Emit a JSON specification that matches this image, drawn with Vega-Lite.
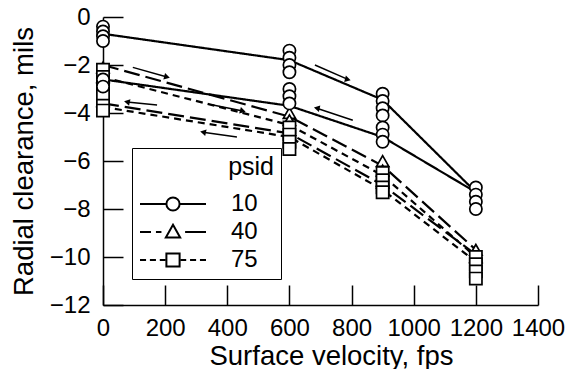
{
  "$schema": "https://vega.github.io/schema/vega-lite/v6.json",
  "width": 435,
  "height": 288,
  "autosize": {"type": "none"},
  "padding": {"left": 103, "top": 17, "right": 36, "bottom": 64},
  "background": "white",
  "config": {
    "view": {"stroke": null},
    "font": "Liberation Sans",
    "axis": {
      "grid": false,
      "domainColor": "black",
      "domainWidth": 1.5,
      "tickColor": "black",
      "tickWidth": 1.5,
      "tickSize": -20,
      "labelColor": "black",
      "labelFontSize": 24,
      "labelFlush": false,
      "labelOverlap": false,
      "titleColor": "black",
      "titleFontSize": 27.5,
      "titleFontWeight": "normal"
    }
  },
  "datasets": {
    "lines": [
      {"psid": "10", "run": "10 up", "v": 0, "c": -0.7},
      {"psid": "10", "run": "10 up", "v": 600, "c": -1.8},
      {"psid": "10", "run": "10 up", "v": 900, "c": -3.45},
      {"psid": "10", "run": "10 up", "v": 1200, "c": -7.3},
      {"psid": "10", "run": "10 down", "v": 1200, "c": -7.3},
      {"psid": "10", "run": "10 down", "v": 900, "c": -5.0},
      {"psid": "10", "run": "10 down", "v": 600, "c": -3.7},
      {"psid": "10", "run": "10 down", "v": 0, "c": -2.6},
      {"psid": "40", "run": "40 up", "v": 0, "c": -2.0},
      {"psid": "40", "run": "40 up", "v": 600, "c": -4.15},
      {"psid": "40", "run": "40 up", "v": 900, "c": -6.2},
      {"psid": "40", "run": "40 up", "v": 1200, "c": -9.7},
      {"psid": "40", "run": "40 down", "v": 1200, "c": -9.9},
      {"psid": "40", "run": "40 down", "v": 900, "c": -7.0},
      {"psid": "40", "run": "40 down", "v": 600, "c": -4.85},
      {"psid": "40", "run": "40 down", "v": 0, "c": -3.6},
      {"psid": "75", "run": "75 up", "v": 0, "c": -2.5},
      {"psid": "75", "run": "75 up", "v": 600, "c": -4.5},
      {"psid": "75", "run": "75 up", "v": 900, "c": -6.6},
      {"psid": "75", "run": "75 up", "v": 1200, "c": -10.0},
      {"psid": "75", "run": "75 down", "v": 1200, "c": -10.2},
      {"psid": "75", "run": "75 down", "v": 900, "c": -7.2},
      {"psid": "75", "run": "75 down", "v": 600, "c": -5.0},
      {"psid": "75", "run": "75 down", "v": 0, "c": -3.75}
    ],
    "points": [
      {"psid": "40", "v": 0, "c": -2.1}, {"psid": "40", "v": 0, "c": -2.5}, {"psid": "40", "v": 0, "c": -3.5},
      {"psid": "40", "v": 600, "c": -4.0}, {"psid": "40", "v": 600, "c": -4.3}, {"psid": "40", "v": 600, "c": -4.7},
      {"psid": "40", "v": 900, "c": -6.0}, {"psid": "40", "v": 900, "c": -6.4}, {"psid": "40", "v": 900, "c": -6.9},
      {"psid": "40", "v": 1200, "c": -9.7}, {"psid": "40", "v": 1200, "c": -10.0},
      {"psid": "75", "v": 0, "c": -2.2}, {"psid": "75", "v": 0, "c": -2.5}, {"psid": "75", "v": 0, "c": -2.9},
      {"psid": "75", "v": 0, "c": -3.3}, {"psid": "75", "v": 0, "c": -3.7}, {"psid": "75", "v": 0, "c": -3.9},
      {"psid": "75", "v": 600, "c": -4.6}, {"psid": "75", "v": 600, "c": -4.9}, {"psid": "75", "v": 600, "c": -5.2}, {"psid": "75", "v": 600, "c": -5.5},
      {"psid": "75", "v": 900, "c": -6.5}, {"psid": "75", "v": 900, "c": -6.8}, {"psid": "75", "v": 900, "c": -7.1}, {"psid": "75", "v": 900, "c": -7.3},
      {"psid": "75", "v": 1200, "c": -10.0}, {"psid": "75", "v": 1200, "c": -10.3}, {"psid": "75", "v": 1200, "c": -10.6}, {"psid": "75", "v": 1200, "c": -10.9},
      {"psid": "10", "v": 0, "c": -0.4}, {"psid": "10", "v": 0, "c": -0.6}, {"psid": "10", "v": 0, "c": -0.8}, {"psid": "10", "v": 0, "c": -1.0},
      {"psid": "10", "v": 0, "c": -2.6}, {"psid": "10", "v": 0, "c": -2.9},
      {"psid": "10", "v": 600, "c": -1.4}, {"psid": "10", "v": 600, "c": -1.7}, {"psid": "10", "v": 600, "c": -2.0}, {"psid": "10", "v": 600, "c": -2.3},
      {"psid": "10", "v": 600, "c": -3.0}, {"psid": "10", "v": 600, "c": -3.3}, {"psid": "10", "v": 600, "c": -3.6},
      {"psid": "10", "v": 900, "c": -3.2}, {"psid": "10", "v": 900, "c": -3.5}, {"psid": "10", "v": 900, "c": -3.8}, {"psid": "10", "v": 900, "c": -4.1},
      {"psid": "10", "v": 900, "c": -4.6}, {"psid": "10", "v": 900, "c": -4.9}, {"psid": "10", "v": 900, "c": -5.2},
      {"psid": "10", "v": 1200, "c": -7.1}, {"psid": "10", "v": 1200, "c": -7.4}, {"psid": "10", "v": 1200, "c": -7.7}, {"psid": "10", "v": 1200, "c": -8.0}
    ],
    "arrows": [
      {"v": 96, "c": -2.1, "v2": 206, "c2": -2.5, "sweep": "increasing"},
      {"v": 174, "c": -3.67, "v2": 77, "c2": -3.54, "sweep": "decreasing"},
      {"v": 354, "c": -3.67, "v2": 450, "c2": -3.92, "sweep": "increasing"},
      {"v": 431, "c": -5.0, "v2": 322, "c2": -4.8, "sweep": "decreasing"},
      {"v": 682, "c": -2.0, "v2": 788, "c2": -2.6, "sweep": "increasing"},
      {"v": 804, "c": -4.3, "v2": 688, "c2": -3.8, "sweep": "decreasing"}
    ]
  },
  "layer": [
    {
      "data": {"name": "lines"},
      "mark": {"type": "line", "color": "black", "strokeWidth": 2.2},
      "encoding": {
        "x": {
          "field": "v", "type": "quantitative",
          "scale": {"domain": [0, 1400]},
          "axis": {"values": [0, 200, 400, 600, 800, 1000, 1200, 1400], "format": "d", "title": "Surface velocity, fps", "labelPadding": 31, "titlePadding": 2, "titleX": 228}
        },
        "y": {
          "field": "c", "type": "quantitative",
          "scale": {"domain": [-12, 0]},
          "axis": {"values": [-12, -10, -8, -6, -4, -2, 0], "title": "Radial clearance, mils", "labelPadding": 33, "titlePadding": 11}
        },
        "detail": {"field": "run"},
        "strokeDash": {
          "field": "psid", "type": "nominal",
          "scale": {"domain": ["75", "40", "10"], "range": [[7, 5], [16, 6], [1, 0]]},
          "legend": null
        }
      }
    },
    {
      "data": {"name": "arrows"},
      "mark": {"type": "rule", "color": "black", "strokeWidth": 1.5},
      "encoding": {
        "x": {"field": "v", "type": "quantitative"},
        "y": {"field": "c", "type": "quantitative"},
        "x2": {"field": "v2"},
        "y2": {"field": "c2"}
      }
    },
    {
      "data": {"name": "arrows"},
      "transform": [{"filter": "datum.sweep === 'increasing'"}],
      "mark": {"type": "point", "shape": "triangle-right", "filled": true, "color": "black", "opacity": 1, "size": 45, "angle": 15},
      "encoding": {
        "x": {"field": "v2", "type": "quantitative"},
        "y": {"field": "c2", "type": "quantitative"}
      }
    },
    {
      "data": {"name": "arrows"},
      "transform": [{"filter": "datum.sweep === 'decreasing'"}],
      "mark": {"type": "point", "shape": "triangle-left", "filled": true, "color": "black", "opacity": 1, "size": 45, "angle": 12},
      "encoding": {
        "x": {"field": "v2", "type": "quantitative"},
        "y": {"field": "c2", "type": "quantitative"}
      }
    },
    {
      "data": {"name": "points"},
      "mark": {"type": "point", "filled": true, "fill": "white", "stroke": "black", "strokeWidth": 1.7, "size": 150},
      "encoding": {
        "x": {"field": "v", "type": "quantitative"},
        "y": {"field": "c", "type": "quantitative"},
        "shape": {
          "field": "psid", "type": "nominal",
          "scale": {"domain": ["75", "40", "10"], "range": ["square", "triangle-up", "circle"]},
          "legend": null
        },
        "opacity": {
          "field": "psid", "type": "ordinal",
          "scale": {"domain": ["10", "40", "75"], "range": [1, 1, 1]},
          "legend": {
            "title": "psid",
            "orient": "none",
            "legendX": 29,
            "legendY": 131,
            "strokeColor": "black",
            "padding": 7,
            "symbolSize": 484,
            "symbolType": {"expr": "datum.value === '10' ? 'M-1,0H1.4M2.6,0H5M2.6,0A0.6,0.6,0,1,1,1.4,0A0.6,0.6,0,1,1,2.6,0ZM10.8,0' : datum.value === '40' ? 'M-1,0H0M0.45,0H0.95M3.1,0H5M2,-0.65L2.65,0.5L1.35,0.5ZM10.8,0' : 'M-1,0H-0.45M-0.1,0H0.45M0.8,0H1.3M2.7,0H3.2M3.55,0H4.1M4.45,0H5M1.4,-0.6H2.6V0.6H1.4ZM10.8,0'"},
            "symbolStrokeWidth": 2,
            "labelFontSize": 24,
            "labelColor": "black",
            "titleFontSize": 25,
            "titleFontWeight": "normal",
            "titleColor": "black",
            "titleAnchor": "end",
            "labelOffset": 68,
            "rowPadding": 4,
            "titlePadding": 12,
            "encode": {
              "legend": {"strokeWidth": {"value": 1.5}}
            }
          }
        }
      }
    }
  ]
}
